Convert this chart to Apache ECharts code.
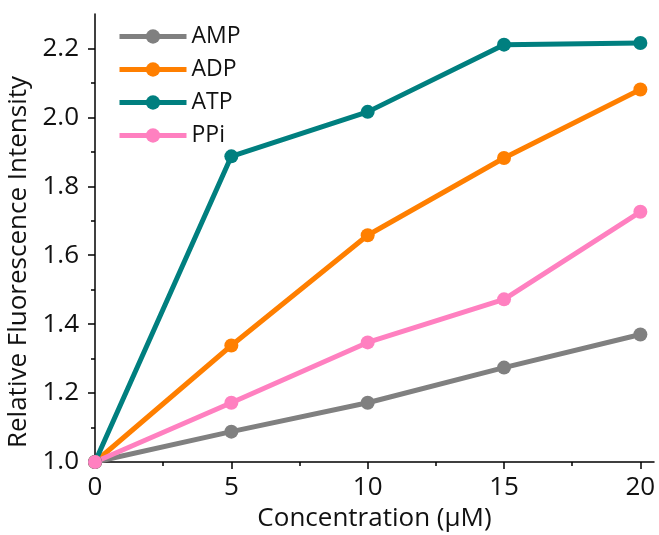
<!DOCTYPE html>
<html>
<head>
<meta charset="utf-8">
<script src="https://cdn.jsdelivr.net/npm/echarts@6/dist/echarts.min.js"></script>
<style>
  html, body { margin: 0; padding: 0; background: #fff; }
  #chart { width: 659px; height: 535px; }
</style>
</head>
<body>
<div id="chart"></div>
<script>
// datos
const concentraciones = [0, 5, 10, 15, 20];
const amp = [1.0, 1.088, 1.172, 1.274, 1.370];
const adp = [1.0, 1.338, 1.658, 1.882, 2.081];
const atp = [1.0, 1.887, 2.016, 2.211, 2.216];
const ppi = [1.0, 1.172, 1.347, 1.472, 1.726];

const xTicks = [0, 5, 10, 15, 20];
const xMinor = [2.5, 7.5, 12.5, 17.5];
const yTicks = [1.0, 1.2, 1.4, 1.6, 1.8, 2.0, 2.2];
const yMinor = [1.1, 1.3, 1.5, 1.7, 1.9, 2.1];

const FONT = "Open Sans";
const chart = echarts.init(document.getElementById("chart"));

const serie = (name, vals, color) => ({
  name,
  type: "line",
  data: concentraciones.map((x, i) => [x, vals[i]]),
  symbol: "circle",
  symbolSize: 14,
  lineStyle: { color, width: 5 },
  itemStyle: { color },
  xAxisIndex: 0,
  yAxisIndex: 0
});

const ejeX = {
  type: "value", min: 0, max: 20.5, position: "bottom",
  axisLine: { show: true, lineStyle: { color: "#000", width: 1.5 } },
  splitLine: { show: false }
};
const ejeY = {
  type: "value", min: 1.0, max: 2.3, position: "left",
  axisLine: { show: true, lineStyle: { color: "#000", width: 1.5 } },
  splitLine: { show: false }
};

chart.setOption({
  backgroundColor: "#fff",
  animation: false,
  grid: { left: 95, right: 5, top: 14, bottom: 73, outerBoundsMode: "none" },
  legend: {
    orient: "vertical",
    left: 112,
    top: 20,
    itemWidth: 67,
    itemHeight: 18,
    itemGap: 10,
    lineStyle: { width: 5 },
    textStyle: { fontFamily: FONT, fontSize: 23, color: "#111" },
    data: ["AMP", "ADP", "ATP", "PPi"]
  },
  xAxis: [
    Object.assign({}, ejeX, {
      name: "Concentration (\u03bcM)",
      nameLocation: "middle",
      nameGap: 42,
      nameTextStyle: { fontFamily: FONT, fontSize: 26, color: "#111" },
      axisTick: { show: true, inside: false, length: 7, customValues: xTicks, lineStyle: { color: "#000", width: 1.5 } },
      axisLabel: { customValues: xTicks, fontFamily: FONT, fontSize: 26, color: "#111", margin: 13 }
    }),
    Object.assign({}, ejeX, {
      axisLine: { show: false },
      axisTick: { show: true, inside: false, length: 4, customValues: xMinor, lineStyle: { color: "#000", width: 1.5 } },
      axisLabel: { show: false }
    })
  ],
  yAxis: [
    Object.assign({}, ejeY, {
      name: "Relative Fluorescence Intensity",
      nameLocation: "middle",
      nameGap: 53,
      nameTextStyle: { fontFamily: FONT, fontSize: 26, color: "#111", padding: [0, 48, 0, 0] },
      axisTick: { show: true, inside: false, length: 7, customValues: yTicks, lineStyle: { color: "#000", width: 1.5 } },
      axisLabel: { customValues: yTicks, fontFamily: FONT, fontSize: 26, color: "#111", margin: 16,
        formatter: v => v.toFixed(1) }
    }),
    Object.assign({}, ejeY, {
      axisLine: { show: false },
      axisTick: { show: true, inside: false, length: 4, customValues: yMinor, lineStyle: { color: "#000", width: 1.5 } },
      axisLabel: { show: false }
    })
  ],
  series: [
    serie("AMP", amp, "#808080"),
    serie("ADP", adp, "#ff7f00"),
    serie("ATP", atp, "#007f7f"),
    serie("PPi", ppi, "#ff80c0")
  ]
});
</script>
</body>
</html>
